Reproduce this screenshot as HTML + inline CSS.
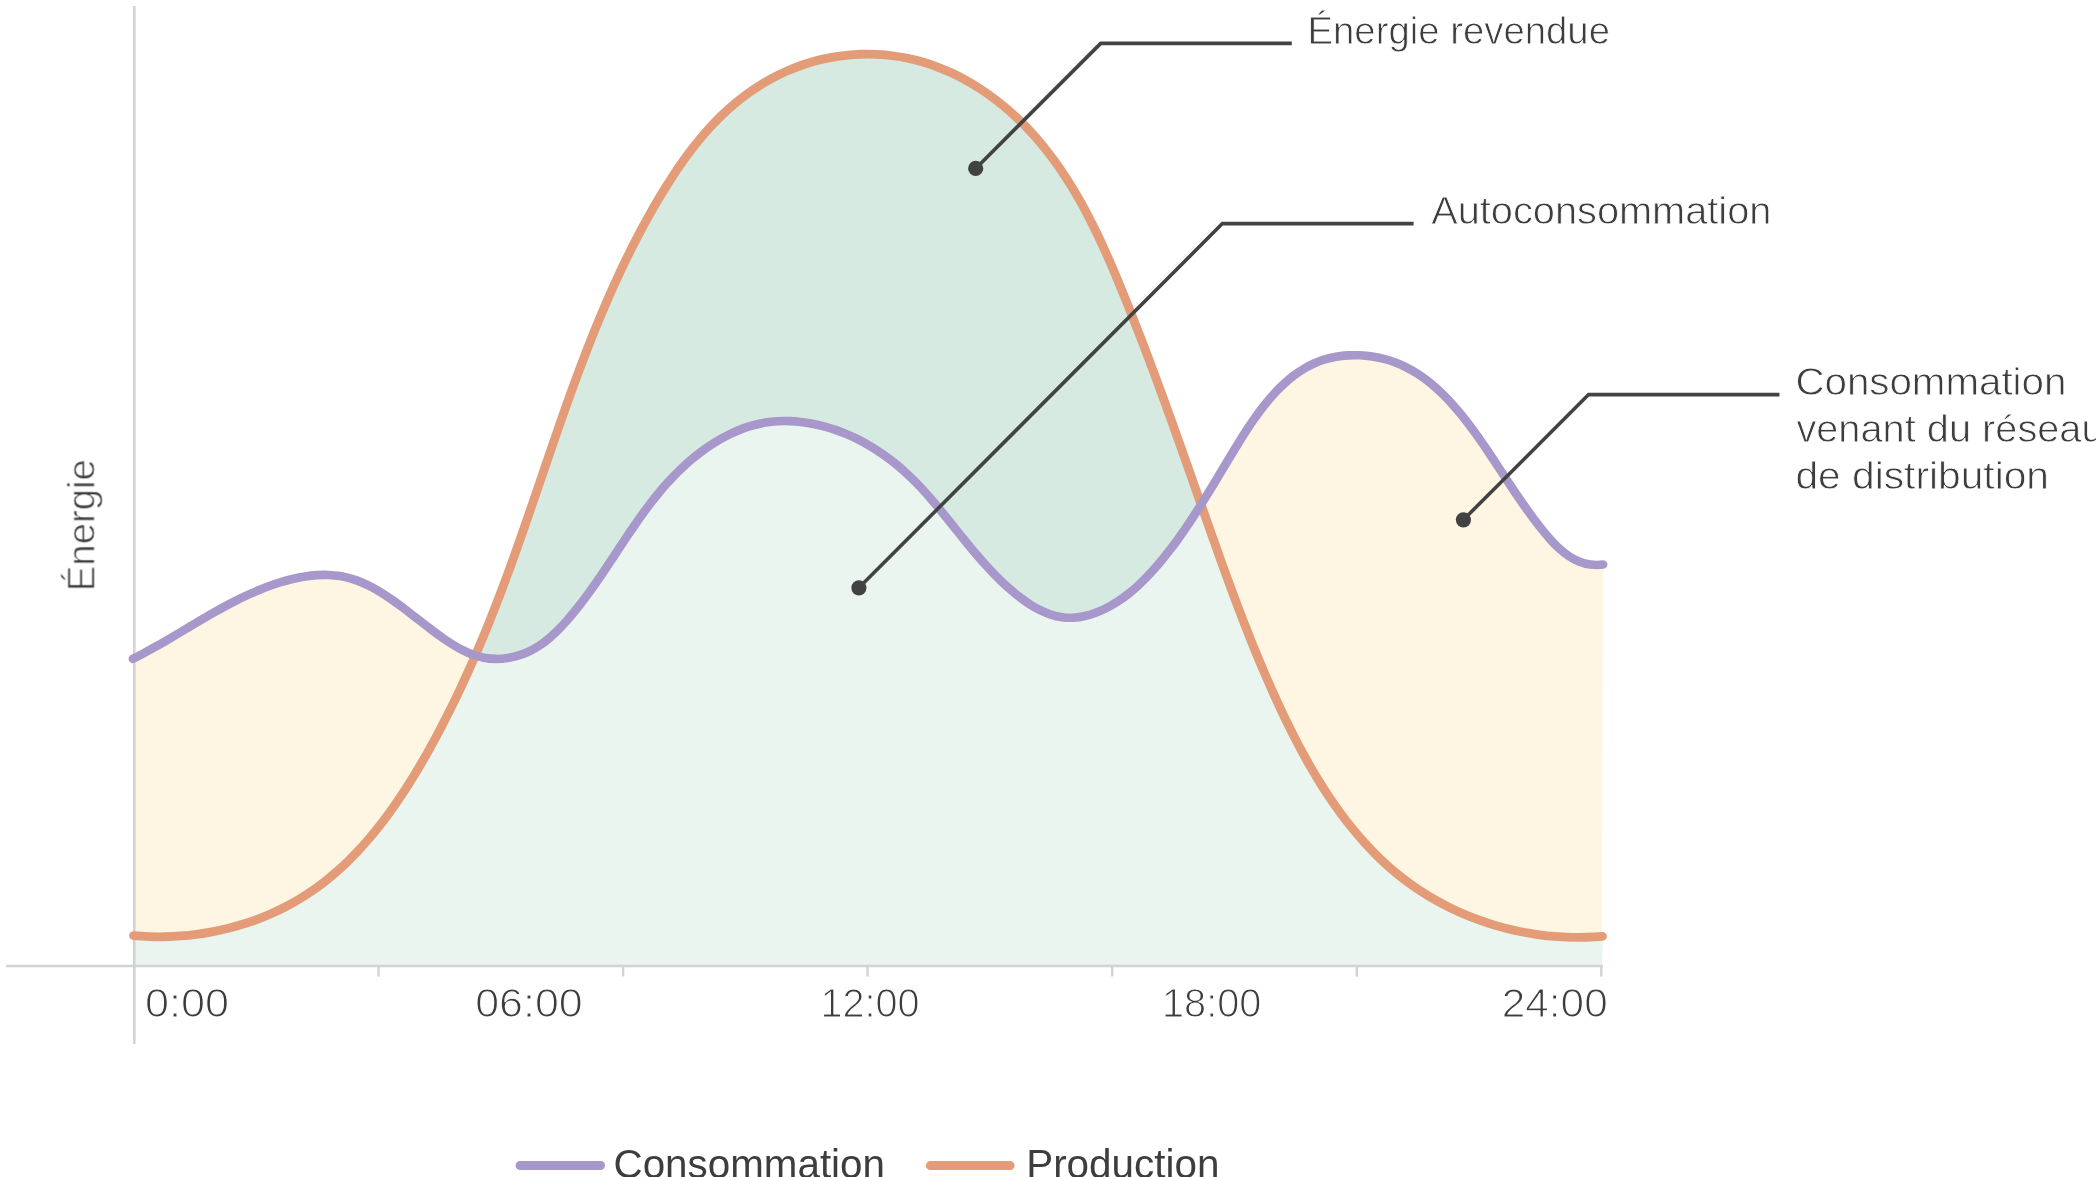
<!DOCTYPE html>
<html><head><meta charset="utf-8"><title>Autoconsommation</title>
<style>html,body{margin:0;padding:0;background:#fff;overflow:hidden}svg{display:block}</style>
</head><body>
<svg width="2096" height="1177" viewBox="0 0 2096 1177">
<defs><clipPath id="co"><path d="M133.55,935.69C138.78,936.16 144.02,936.49 149.28,936.66C154.54,936.84 159.80,936.87 165.06,936.76C170.32,936.65 175.57,936.39 180.82,935.98C186.06,935.58 191.29,935.03 196.50,934.34C201.71,933.65 206.89,932.81 212.05,931.84C217.20,930.86 222.32,929.74 227.40,928.49C232.47,927.23 237.51,925.83 242.49,924.29C247.47,922.76 252.40,921.08 257.26,919.27C262.13,917.45 266.93,915.50 271.66,913.41C276.39,911.33 281.04,909.10 285.61,906.74C290.19,904.39 294.68,901.89 299.07,899.26C303.47,896.64 307.77,893.87 311.98,890.98C316.19,888.09 320.30,885.07 324.32,881.94C328.34,878.80 332.27,875.55 336.11,872.18C339.96,868.82 343.72,865.35 347.39,861.78C351.07,858.21 354.66,854.54 358.18,850.78C361.70,847.02 365.14,843.17 368.50,839.24C371.87,835.32 375.16,831.31 378.38,827.23C381.61,823.15 384.76,819.00 387.85,814.79C390.94,810.58 393.97,806.31 396.93,801.99C399.90,797.66 402.80,793.29 405.65,788.88C408.50,784.46 411.29,780.00 414.03,775.51C416.77,771.02 419.45,766.50 422.09,761.96C424.73,757.41 427.33,752.84 429.87,748.26C432.42,743.68 434.93,739.08 437.39,734.47C439.85,729.86 442.27,725.24 444.66,720.60C447.04,715.96 449.38,711.30 451.68,706.63C453.99,701.97 456.25,697.29 458.48,692.59C460.71,687.90 462.91,683.19 465.07,678.47C467.23,673.76 469.36,669.02 471.46,664.28C473.56,659.54 475.62,654.78 477.66,650.02C479.70,645.25 481.71,640.47 483.69,635.68C485.67,630.90 487.62,626.10 489.55,621.29C491.48,616.48 493.38,611.66 495.26,606.83C497.14,602.00 499.00,597.16 500.84,592.31C502.68,587.47 504.49,582.61 506.29,577.75C508.09,572.88 509.87,568.01 511.64,563.13C513.40,558.25 515.15,553.37 516.89,548.48C518.63,543.59 520.35,538.69 522.07,533.79C523.79,528.89 525.49,523.99 527.19,519.08C528.89,514.17 530.58,509.26 532.26,504.35C533.95,499.43 535.63,494.52 537.31,489.60C538.99,484.69 540.67,479.77 542.34,474.85C544.02,469.93 545.70,465.02 547.38,460.10C549.06,455.18 550.75,450.27 552.44,445.36C554.13,440.44 555.82,435.53 557.53,430.63C559.23,425.72 560.95,420.82 562.67,415.92C564.40,411.02 566.13,406.13 567.88,401.24C569.63,396.35 571.39,391.47 573.17,386.59C574.95,381.71 576.74,376.84 578.56,371.98C580.37,367.12 582.21,362.27 584.06,357.42C585.91,352.58 587.79,347.74 589.69,342.92C591.59,338.09 593.52,333.28 595.47,328.47C597.42,323.67 599.40,318.87 601.41,314.09C603.41,309.31 605.45,304.54 607.52,299.79C609.59,295.03 611.69,290.29 613.83,285.57C615.96,280.84 618.13,276.13 620.34,271.43C622.55,266.73 624.80,262.05 627.08,257.39C629.37,252.72 631.69,248.07 634.06,243.44C636.43,238.81 638.84,234.20 641.30,229.61C643.75,225.02 646.25,220.44 648.80,215.89C651.35,211.33 653.95,206.80 656.60,202.29C659.24,197.77 661.94,193.28 664.69,188.82C667.45,184.36 670.26,179.93 673.14,175.55C676.01,171.17 678.96,166.83 681.97,162.56C684.98,158.28 688.07,154.07 691.24,149.92C694.41,145.78 697.65,141.71 700.99,137.73C704.33,133.75 707.75,129.86 711.27,126.07C714.79,122.27 718.40,118.58 722.12,115.00C725.84,111.43 729.66,107.96 733.60,104.63C737.53,101.29 741.57,98.09 745.73,95.02C749.89,91.96 754.17,89.04 758.54,86.26C762.91,83.49 767.38,80.87 771.95,78.42C776.51,75.97 781.16,73.68 785.89,71.56C790.63,69.45 795.44,67.51 800.31,65.76C805.19,64.00 810.14,62.44 815.14,61.07C820.15,59.71 825.21,58.54 830.31,57.58C835.42,56.62 840.56,55.86 845.73,55.30C850.90,54.75 856.10,54.39 861.30,54.24C866.50,54.09 871.71,54.14 876.90,54.39C882.10,54.64 887.28,55.09 892.44,55.75C897.59,56.40 902.72,57.25 907.79,58.31C912.87,59.37 917.90,60.62 922.87,62.08C927.84,63.54 932.74,65.19 937.58,67.03C942.42,68.86 947.18,70.89 951.88,73.08C956.57,75.27 961.19,77.63 965.73,80.15C970.27,82.67 974.73,85.34 979.10,88.16C983.48,90.97 987.76,93.93 991.96,97.02C996.15,100.11 1000.25,103.32 1004.26,106.66C1008.26,109.99 1012.16,113.43 1015.96,116.98C1019.77,120.53 1023.46,124.18 1027.05,127.92C1030.63,131.66 1034.11,135.48 1037.48,139.39C1040.86,143.29 1044.13,147.28 1047.30,151.34C1050.48,155.41 1053.56,159.54 1056.55,163.75C1059.54,167.95 1062.45,172.22 1065.27,176.55C1068.09,180.89 1070.84,185.28 1073.51,189.72C1076.17,194.17 1078.77,198.67 1081.30,203.21C1083.83,207.76 1086.29,212.35 1088.69,216.99C1091.09,221.62 1093.44,226.29 1095.73,231.00C1098.02,235.70 1100.26,240.44 1102.45,245.20C1104.64,249.97 1106.79,254.76 1108.90,259.57C1111.01,264.37 1113.09,269.20 1115.13,274.04C1117.17,278.88 1119.18,283.74 1121.17,288.59C1123.16,293.45 1125.12,298.31 1127.07,303.17C1129.02,308.04 1130.95,312.90 1132.86,317.76C1134.78,322.62 1136.67,327.48 1138.56,332.34C1140.44,337.20 1142.31,342.06 1144.16,346.92C1146.02,351.78 1147.86,356.64 1149.69,361.50C1151.52,366.37 1153.33,371.23 1155.14,376.09C1156.94,380.95 1158.74,385.81 1160.52,390.68C1162.31,395.54 1164.08,400.40 1165.85,405.27C1167.62,410.13 1169.37,415.00 1171.12,419.86C1172.87,424.73 1174.62,429.59 1176.36,434.46C1178.09,439.33 1179.83,444.20 1181.55,449.07C1183.28,453.94 1185.00,458.81 1186.72,463.68C1188.44,468.56 1190.16,473.43 1191.87,478.30C1193.58,483.18 1195.30,488.06 1197.01,492.94C1198.72,497.81 1200.43,502.69 1202.14,507.58C1203.85,512.46 1205.56,517.34 1207.28,522.23C1208.99,527.11 1210.71,531.99 1212.44,536.88C1214.17,541.76 1215.90,546.64 1217.64,551.52C1219.38,556.40 1221.13,561.28 1222.89,566.16C1224.65,571.04 1226.42,575.91 1228.20,580.79C1229.99,585.66 1231.78,590.53 1233.60,595.39C1235.41,600.26 1237.24,605.12 1239.09,609.97C1240.94,614.83 1242.81,619.68 1244.70,624.52C1246.58,629.37 1248.49,634.21 1250.42,639.04C1252.36,643.87 1254.31,648.69 1256.29,653.51C1258.28,658.33 1260.28,663.14 1262.32,667.94C1264.36,672.74 1266.42,677.53 1268.52,682.31C1270.61,687.10 1272.74,691.87 1274.90,696.63C1277.06,701.39 1279.25,706.15 1281.48,710.88C1283.71,715.62 1285.98,720.35 1288.29,725.05C1290.60,729.75 1292.95,734.43 1295.35,739.09C1297.75,743.74 1300.20,748.37 1302.70,752.97C1305.20,757.57 1307.75,762.13 1310.37,766.66C1312.98,771.19 1315.65,775.68 1318.38,780.13C1321.11,784.57 1323.90,788.98 1326.77,793.33C1329.63,797.69 1332.56,801.99 1335.56,806.24C1338.56,810.49 1341.64,814.69 1344.79,818.82C1347.94,822.96 1351.17,827.03 1354.48,831.02C1357.79,835.02 1361.18,838.94 1364.65,842.78C1368.12,846.62 1371.68,850.37 1375.32,854.03C1378.97,857.69 1382.69,861.25 1386.51,864.71C1390.33,868.16 1394.24,871.51 1398.24,874.74C1402.24,877.98 1406.34,881.09 1410.52,884.09C1414.69,887.09 1418.96,889.97 1423.30,892.73C1427.64,895.49 1432.06,898.13 1436.56,900.65C1441.05,903.17 1445.62,905.56 1450.25,907.83C1454.88,910.10 1459.57,912.25 1464.33,914.27C1469.09,916.29 1473.90,918.18 1478.77,919.95C1483.64,921.71 1488.56,923.34 1493.53,924.85C1498.50,926.35 1503.51,927.72 1508.56,928.96C1513.62,930.20 1518.71,931.30 1523.84,932.27C1528.97,933.24 1534.13,934.08 1539.32,934.77C1544.51,935.47 1549.72,936.03 1554.96,936.45C1560.19,936.86 1565.45,937.14 1570.72,937.28C1575.99,937.41 1581.27,937.41 1586.57,937.25C1591.86,937.10 1597.16,936.81 1602.46,936.36L1602,966L134,966Z"/></clipPath></defs>
<path d="M132.85,658.87C136.55,657.02 140.20,655.13 143.79,653.21C147.39,651.29 150.93,649.34 154.44,647.37C157.94,645.41 161.41,643.42 164.85,641.42C168.29,639.42 171.70,637.41 175.09,635.40C178.48,633.38 181.85,631.36 185.22,629.35C188.58,627.33 191.94,625.32 195.31,623.32C198.67,621.32 202.04,619.33 205.42,617.37C208.80,615.40 212.19,613.45 215.61,611.53C219.03,609.60 222.48,607.71 225.96,605.85C229.44,603.99 232.95,602.17 236.52,600.39C240.08,598.61 243.69,596.87 247.35,595.18C251.02,593.49 254.74,591.86 258.52,590.29C262.29,588.72 266.11,587.23 269.97,585.83C273.82,584.43 277.71,583.13 281.62,581.94C285.53,580.76 289.46,579.69 293.39,578.77C297.33,577.85 301.27,577.07 305.20,576.45C309.13,575.84 313.06,575.39 316.96,575.14C320.86,574.88 324.74,574.81 328.59,574.96C332.43,575.11 336.24,575.47 340.00,576.07C343.76,576.67 347.47,577.51 351.12,578.59C354.77,579.68 358.37,580.99 361.92,582.50C365.48,584.01 368.99,585.72 372.46,587.58C375.93,589.45 379.36,591.47 382.76,593.62C386.17,595.77 389.54,598.04 392.89,600.39C396.24,602.75 399.57,605.19 402.88,607.68C406.19,610.18 409.49,612.72 412.78,615.28C416.07,617.83 419.36,620.40 422.64,622.95C425.93,625.50 429.21,628.02 432.51,630.49C435.80,632.96 439.10,635.36 442.42,637.67C445.73,639.99 449.06,642.20 452.42,644.29C455.78,646.37 459.16,648.32 462.59,650.07C466.03,651.82 469.51,653.38 473.08,654.68C476.64,655.98 480.28,657.02 484.02,657.75C487.76,658.48 491.60,658.88 495.56,658.92C499.52,658.97 503.56,658.66 507.60,658.03C511.63,657.40 515.64,656.45 519.54,655.21C523.44,653.97 527.21,652.44 530.79,650.65C534.36,648.86 537.77,646.82 541.03,644.58C544.29,642.33 547.40,639.88 550.40,637.28C553.39,634.68 556.27,631.93 559.06,629.07C561.85,626.22 564.55,623.26 567.18,620.25C569.82,617.24 572.39,614.18 574.91,611.09C577.43,607.99 579.90,604.85 582.32,601.67C584.74,598.50 587.12,595.29 589.46,592.06C591.81,588.82 594.12,585.56 596.40,582.28C598.68,579.00 600.93,575.70 603.16,572.39C605.40,569.08 607.62,565.76 609.82,562.43C612.03,559.10 614.23,555.77 616.42,552.43C618.62,549.10 620.81,545.77 623.01,542.45C625.22,539.13 627.42,535.82 629.65,532.53C631.87,529.23 634.12,525.96 636.38,522.70C638.65,519.45 640.94,516.22 643.26,513.02C645.59,509.82 647.95,506.65 650.35,503.51C652.75,500.38 655.20,497.28 657.69,494.23C660.19,491.17 662.74,488.16 665.36,485.20C667.97,482.24 670.64,479.33 673.39,476.47C676.13,473.61 678.95,470.81 681.85,468.08C684.74,465.34 687.72,462.67 690.79,460.06C693.85,457.45 697.01,454.92 700.26,452.46C703.51,450.00 706.85,447.63 710.26,445.37C713.68,443.10 717.17,440.95 720.73,438.92C724.28,436.90 727.90,435.01 731.57,433.29C735.24,431.56 738.97,429.99 742.73,428.60C746.48,427.21 750.28,426.01 754.10,425.01C757.93,424.02 761.78,423.22 765.65,422.60C769.51,421.99 773.40,421.56 777.29,421.32C781.19,421.07 785.09,421.00 789.00,421.11C792.91,421.21 796.81,421.48 800.71,421.91C804.61,422.34 808.50,422.93 812.38,423.67C816.25,424.41 820.11,425.31 823.94,426.34C827.77,427.37 831.58,428.55 835.36,429.85C839.13,431.16 842.87,432.60 846.57,434.16C850.27,435.72 853.92,437.41 857.53,439.21C861.13,441.01 864.69,442.92 868.18,444.93C871.68,446.95 875.11,449.07 878.48,451.29C881.84,453.50 885.14,455.81 888.37,458.21C891.59,460.60 894.73,463.08 897.79,465.64C900.85,468.20 903.83,470.83 906.74,473.53C909.65,476.23 912.48,479.00 915.26,481.82C918.04,484.64 920.76,487.52 923.43,490.44C926.11,493.36 928.73,496.33 931.33,499.33C933.92,502.33 936.48,505.37 939.01,508.43C941.54,511.49 944.05,514.57 946.55,517.67C949.05,520.77 951.54,523.89 954.03,527.01C956.52,530.12 959.01,533.25 961.51,536.36C964.01,539.48 966.52,542.59 969.06,545.68C971.60,548.77 974.16,551.85 976.76,554.90C979.36,557.95 981.99,560.97 984.68,563.95C987.36,566.94 990.09,569.88 992.88,572.78C995.67,575.68 998.52,578.53 1001.44,581.33C1004.36,584.12 1007.35,586.86 1010.42,589.52C1013.50,592.19 1016.66,594.79 1019.89,597.27C1023.13,599.75 1026.45,602.10 1029.83,604.27C1033.22,606.44 1036.67,608.43 1040.19,610.17C1043.71,611.91 1047.30,613.41 1050.94,614.60C1054.58,615.80 1058.28,616.69 1062.02,617.22C1065.77,617.75 1069.57,617.89 1073.41,617.67C1077.24,617.45 1081.09,616.88 1084.94,615.99C1088.78,615.11 1092.62,613.92 1096.40,612.48C1100.19,611.03 1103.93,609.34 1107.58,607.44C1111.23,605.54 1114.79,603.44 1118.24,601.18C1121.68,598.93 1125.01,596.53 1128.22,594.00C1131.44,591.47 1134.55,588.82 1137.56,586.07C1140.57,583.33 1143.48,580.48 1146.31,577.57C1149.13,574.66 1151.87,571.68 1154.54,568.67C1157.20,565.65 1159.80,562.59 1162.32,559.52C1164.85,556.44 1167.31,553.35 1169.72,550.24C1172.13,547.12 1174.48,543.99 1176.78,540.84C1179.09,537.69 1181.34,534.51 1183.56,531.32C1185.78,528.13 1187.96,524.92 1190.10,521.69C1192.25,518.46 1194.37,515.21 1196.46,511.94C1198.56,508.67 1200.63,505.38 1202.69,502.07C1204.75,498.76 1206.79,495.43 1208.83,492.09C1210.87,488.74 1212.90,485.37 1214.94,481.99C1216.97,478.60 1219.01,475.20 1221.06,471.78C1223.11,468.35 1225.18,464.91 1227.26,461.45C1229.34,457.99 1231.44,454.51 1233.57,451.01C1235.70,447.51 1237.86,444.00 1240.05,440.48C1242.24,436.97 1244.47,433.46 1246.75,429.98C1249.02,426.50 1251.34,423.05 1253.71,419.64C1256.08,416.24 1258.50,412.89 1260.98,409.61C1263.47,406.33 1266.01,403.12 1268.62,400.01C1271.23,396.91 1273.91,393.89 1276.66,391.00C1279.42,388.11 1282.25,385.33 1285.17,382.70C1288.08,380.07 1291.08,377.59 1294.17,375.27C1297.26,372.94 1300.45,370.79 1303.73,368.82C1307.01,366.85 1310.40,365.08 1313.89,363.51C1317.38,361.94 1320.99,360.59 1324.70,359.47C1328.41,358.35 1332.22,357.45 1336.11,356.77C1339.99,356.10 1343.94,355.64 1347.93,355.40C1351.92,355.16 1355.94,355.14 1359.97,355.32C1363.99,355.51 1368.02,355.90 1372.01,356.50C1376.01,357.10 1379.98,357.91 1383.88,358.91C1387.78,359.92 1391.62,361.12 1395.36,362.53C1399.10,363.93 1402.73,365.52 1406.27,367.30C1409.80,369.08 1413.24,371.03 1416.58,373.14C1419.92,375.25 1423.17,377.51 1426.34,379.91C1429.50,382.31 1432.57,384.85 1435.57,387.50C1438.56,390.15 1441.48,392.91 1444.32,395.76C1447.16,398.61 1449.92,401.56 1452.62,404.58C1455.32,407.59 1457.95,410.68 1460.52,413.82C1463.09,416.95 1465.60,420.14 1468.05,423.36C1470.50,426.57 1472.90,429.81 1475.25,433.06C1477.60,436.32 1479.91,439.58 1482.18,442.86C1484.44,446.13 1486.68,449.42 1488.89,452.71C1491.10,456.00 1493.28,459.30 1495.45,462.60C1497.63,465.90 1499.79,469.20 1501.95,472.50C1504.11,475.80 1506.26,479.10 1508.43,482.39C1510.60,485.68 1512.77,488.97 1514.97,492.25C1517.17,495.52 1519.39,498.79 1521.64,502.04C1523.89,505.29 1526.18,508.53 1528.51,511.76C1530.83,514.98 1533.21,518.18 1535.63,521.37C1538.06,524.55 1540.54,527.71 1543.09,530.85C1545.64,533.98 1548.25,537.10 1550.96,540.11C1553.67,543.12 1556.48,546.01 1559.42,548.69C1562.35,551.38 1565.43,553.85 1568.66,556.01C1571.90,558.18 1575.30,560.04 1578.90,561.49C1582.50,562.94 1586.30,563.99 1590.34,564.53C1594.37,565.07 1598.64,565.11 1603.17,564.55L1602,966L134,966Z" fill="#FEF6E3"/>
<path d="M133.55,935.69C138.78,936.16 144.02,936.49 149.28,936.66C154.54,936.84 159.80,936.87 165.06,936.76C170.32,936.65 175.57,936.39 180.82,935.98C186.06,935.58 191.29,935.03 196.50,934.34C201.71,933.65 206.89,932.81 212.05,931.84C217.20,930.86 222.32,929.74 227.40,928.49C232.47,927.23 237.51,925.83 242.49,924.29C247.47,922.76 252.40,921.08 257.26,919.27C262.13,917.45 266.93,915.50 271.66,913.41C276.39,911.33 281.04,909.10 285.61,906.74C290.19,904.39 294.68,901.89 299.07,899.26C303.47,896.64 307.77,893.87 311.98,890.98C316.19,888.09 320.30,885.07 324.32,881.94C328.34,878.80 332.27,875.55 336.11,872.18C339.96,868.82 343.72,865.35 347.39,861.78C351.07,858.21 354.66,854.54 358.18,850.78C361.70,847.02 365.14,843.17 368.50,839.24C371.87,835.32 375.16,831.31 378.38,827.23C381.61,823.15 384.76,819.00 387.85,814.79C390.94,810.58 393.97,806.31 396.93,801.99C399.90,797.66 402.80,793.29 405.65,788.88C408.50,784.46 411.29,780.00 414.03,775.51C416.77,771.02 419.45,766.50 422.09,761.96C424.73,757.41 427.33,752.84 429.87,748.26C432.42,743.68 434.93,739.08 437.39,734.47C439.85,729.86 442.27,725.24 444.66,720.60C447.04,715.96 449.38,711.30 451.68,706.63C453.99,701.97 456.25,697.29 458.48,692.59C460.71,687.90 462.91,683.19 465.07,678.47C467.23,673.76 469.36,669.02 471.46,664.28C473.56,659.54 475.62,654.78 477.66,650.02C479.70,645.25 481.71,640.47 483.69,635.68C485.67,630.90 487.62,626.10 489.55,621.29C491.48,616.48 493.38,611.66 495.26,606.83C497.14,602.00 499.00,597.16 500.84,592.31C502.68,587.47 504.49,582.61 506.29,577.75C508.09,572.88 509.87,568.01 511.64,563.13C513.40,558.25 515.15,553.37 516.89,548.48C518.63,543.59 520.35,538.69 522.07,533.79C523.79,528.89 525.49,523.99 527.19,519.08C528.89,514.17 530.58,509.26 532.26,504.35C533.95,499.43 535.63,494.52 537.31,489.60C538.99,484.69 540.67,479.77 542.34,474.85C544.02,469.93 545.70,465.02 547.38,460.10C549.06,455.18 550.75,450.27 552.44,445.36C554.13,440.44 555.82,435.53 557.53,430.63C559.23,425.72 560.95,420.82 562.67,415.92C564.40,411.02 566.13,406.13 567.88,401.24C569.63,396.35 571.39,391.47 573.17,386.59C574.95,381.71 576.74,376.84 578.56,371.98C580.37,367.12 582.21,362.27 584.06,357.42C585.91,352.58 587.79,347.74 589.69,342.92C591.59,338.09 593.52,333.28 595.47,328.47C597.42,323.67 599.40,318.87 601.41,314.09C603.41,309.31 605.45,304.54 607.52,299.79C609.59,295.03 611.69,290.29 613.83,285.57C615.96,280.84 618.13,276.13 620.34,271.43C622.55,266.73 624.80,262.05 627.08,257.39C629.37,252.72 631.69,248.07 634.06,243.44C636.43,238.81 638.84,234.20 641.30,229.61C643.75,225.02 646.25,220.44 648.80,215.89C651.35,211.33 653.95,206.80 656.60,202.29C659.24,197.77 661.94,193.28 664.69,188.82C667.45,184.36 670.26,179.93 673.14,175.55C676.01,171.17 678.96,166.83 681.97,162.56C684.98,158.28 688.07,154.07 691.24,149.92C694.41,145.78 697.65,141.71 700.99,137.73C704.33,133.75 707.75,129.86 711.27,126.07C714.79,122.27 718.40,118.58 722.12,115.00C725.84,111.43 729.66,107.96 733.60,104.63C737.53,101.29 741.57,98.09 745.73,95.02C749.89,91.96 754.17,89.04 758.54,86.26C762.91,83.49 767.38,80.87 771.95,78.42C776.51,75.97 781.16,73.68 785.89,71.56C790.63,69.45 795.44,67.51 800.31,65.76C805.19,64.00 810.14,62.44 815.14,61.07C820.15,59.71 825.21,58.54 830.31,57.58C835.42,56.62 840.56,55.86 845.73,55.30C850.90,54.75 856.10,54.39 861.30,54.24C866.50,54.09 871.71,54.14 876.90,54.39C882.10,54.64 887.28,55.09 892.44,55.75C897.59,56.40 902.72,57.25 907.79,58.31C912.87,59.37 917.90,60.62 922.87,62.08C927.84,63.54 932.74,65.19 937.58,67.03C942.42,68.86 947.18,70.89 951.88,73.08C956.57,75.27 961.19,77.63 965.73,80.15C970.27,82.67 974.73,85.34 979.10,88.16C983.48,90.97 987.76,93.93 991.96,97.02C996.15,100.11 1000.25,103.32 1004.26,106.66C1008.26,109.99 1012.16,113.43 1015.96,116.98C1019.77,120.53 1023.46,124.18 1027.05,127.92C1030.63,131.66 1034.11,135.48 1037.48,139.39C1040.86,143.29 1044.13,147.28 1047.30,151.34C1050.48,155.41 1053.56,159.54 1056.55,163.75C1059.54,167.95 1062.45,172.22 1065.27,176.55C1068.09,180.89 1070.84,185.28 1073.51,189.72C1076.17,194.17 1078.77,198.67 1081.30,203.21C1083.83,207.76 1086.29,212.35 1088.69,216.99C1091.09,221.62 1093.44,226.29 1095.73,231.00C1098.02,235.70 1100.26,240.44 1102.45,245.20C1104.64,249.97 1106.79,254.76 1108.90,259.57C1111.01,264.37 1113.09,269.20 1115.13,274.04C1117.17,278.88 1119.18,283.74 1121.17,288.59C1123.16,293.45 1125.12,298.31 1127.07,303.17C1129.02,308.04 1130.95,312.90 1132.86,317.76C1134.78,322.62 1136.67,327.48 1138.56,332.34C1140.44,337.20 1142.31,342.06 1144.16,346.92C1146.02,351.78 1147.86,356.64 1149.69,361.50C1151.52,366.37 1153.33,371.23 1155.14,376.09C1156.94,380.95 1158.74,385.81 1160.52,390.68C1162.31,395.54 1164.08,400.40 1165.85,405.27C1167.62,410.13 1169.37,415.00 1171.12,419.86C1172.87,424.73 1174.62,429.59 1176.36,434.46C1178.09,439.33 1179.83,444.20 1181.55,449.07C1183.28,453.94 1185.00,458.81 1186.72,463.68C1188.44,468.56 1190.16,473.43 1191.87,478.30C1193.58,483.18 1195.30,488.06 1197.01,492.94C1198.72,497.81 1200.43,502.69 1202.14,507.58C1203.85,512.46 1205.56,517.34 1207.28,522.23C1208.99,527.11 1210.71,531.99 1212.44,536.88C1214.17,541.76 1215.90,546.64 1217.64,551.52C1219.38,556.40 1221.13,561.28 1222.89,566.16C1224.65,571.04 1226.42,575.91 1228.20,580.79C1229.99,585.66 1231.78,590.53 1233.60,595.39C1235.41,600.26 1237.24,605.12 1239.09,609.97C1240.94,614.83 1242.81,619.68 1244.70,624.52C1246.58,629.37 1248.49,634.21 1250.42,639.04C1252.36,643.87 1254.31,648.69 1256.29,653.51C1258.28,658.33 1260.28,663.14 1262.32,667.94C1264.36,672.74 1266.42,677.53 1268.52,682.31C1270.61,687.10 1272.74,691.87 1274.90,696.63C1277.06,701.39 1279.25,706.15 1281.48,710.88C1283.71,715.62 1285.98,720.35 1288.29,725.05C1290.60,729.75 1292.95,734.43 1295.35,739.09C1297.75,743.74 1300.20,748.37 1302.70,752.97C1305.20,757.57 1307.75,762.13 1310.37,766.66C1312.98,771.19 1315.65,775.68 1318.38,780.13C1321.11,784.57 1323.90,788.98 1326.77,793.33C1329.63,797.69 1332.56,801.99 1335.56,806.24C1338.56,810.49 1341.64,814.69 1344.79,818.82C1347.94,822.96 1351.17,827.03 1354.48,831.02C1357.79,835.02 1361.18,838.94 1364.65,842.78C1368.12,846.62 1371.68,850.37 1375.32,854.03C1378.97,857.69 1382.69,861.25 1386.51,864.71C1390.33,868.16 1394.24,871.51 1398.24,874.74C1402.24,877.98 1406.34,881.09 1410.52,884.09C1414.69,887.09 1418.96,889.97 1423.30,892.73C1427.64,895.49 1432.06,898.13 1436.56,900.65C1441.05,903.17 1445.62,905.56 1450.25,907.83C1454.88,910.10 1459.57,912.25 1464.33,914.27C1469.09,916.29 1473.90,918.18 1478.77,919.95C1483.64,921.71 1488.56,923.34 1493.53,924.85C1498.50,926.35 1503.51,927.72 1508.56,928.96C1513.62,930.20 1518.71,931.30 1523.84,932.27C1528.97,933.24 1534.13,934.08 1539.32,934.77C1544.51,935.47 1549.72,936.03 1554.96,936.45C1560.19,936.86 1565.45,937.14 1570.72,937.28C1575.99,937.41 1581.27,937.41 1586.57,937.25C1591.86,937.10 1597.16,936.81 1602.46,936.36L1602,966L134,966Z" fill="#D6EAE2"/>
<path d="M132.85,658.87C136.55,657.02 140.20,655.13 143.79,653.21C147.39,651.29 150.93,649.34 154.44,647.37C157.94,645.41 161.41,643.42 164.85,641.42C168.29,639.42 171.70,637.41 175.09,635.40C178.48,633.38 181.85,631.36 185.22,629.35C188.58,627.33 191.94,625.32 195.31,623.32C198.67,621.32 202.04,619.33 205.42,617.37C208.80,615.40 212.19,613.45 215.61,611.53C219.03,609.60 222.48,607.71 225.96,605.85C229.44,603.99 232.95,602.17 236.52,600.39C240.08,598.61 243.69,596.87 247.35,595.18C251.02,593.49 254.74,591.86 258.52,590.29C262.29,588.72 266.11,587.23 269.97,585.83C273.82,584.43 277.71,583.13 281.62,581.94C285.53,580.76 289.46,579.69 293.39,578.77C297.33,577.85 301.27,577.07 305.20,576.45C309.13,575.84 313.06,575.39 316.96,575.14C320.86,574.88 324.74,574.81 328.59,574.96C332.43,575.11 336.24,575.47 340.00,576.07C343.76,576.67 347.47,577.51 351.12,578.59C354.77,579.68 358.37,580.99 361.92,582.50C365.48,584.01 368.99,585.72 372.46,587.58C375.93,589.45 379.36,591.47 382.76,593.62C386.17,595.77 389.54,598.04 392.89,600.39C396.24,602.75 399.57,605.19 402.88,607.68C406.19,610.18 409.49,612.72 412.78,615.28C416.07,617.83 419.36,620.40 422.64,622.95C425.93,625.50 429.21,628.02 432.51,630.49C435.80,632.96 439.10,635.36 442.42,637.67C445.73,639.99 449.06,642.20 452.42,644.29C455.78,646.37 459.16,648.32 462.59,650.07C466.03,651.82 469.51,653.38 473.08,654.68C476.64,655.98 480.28,657.02 484.02,657.75C487.76,658.48 491.60,658.88 495.56,658.92C499.52,658.97 503.56,658.66 507.60,658.03C511.63,657.40 515.64,656.45 519.54,655.21C523.44,653.97 527.21,652.44 530.79,650.65C534.36,648.86 537.77,646.82 541.03,644.58C544.29,642.33 547.40,639.88 550.40,637.28C553.39,634.68 556.27,631.93 559.06,629.07C561.85,626.22 564.55,623.26 567.18,620.25C569.82,617.24 572.39,614.18 574.91,611.09C577.43,607.99 579.90,604.85 582.32,601.67C584.74,598.50 587.12,595.29 589.46,592.06C591.81,588.82 594.12,585.56 596.40,582.28C598.68,579.00 600.93,575.70 603.16,572.39C605.40,569.08 607.62,565.76 609.82,562.43C612.03,559.10 614.23,555.77 616.42,552.43C618.62,549.10 620.81,545.77 623.01,542.45C625.22,539.13 627.42,535.82 629.65,532.53C631.87,529.23 634.12,525.96 636.38,522.70C638.65,519.45 640.94,516.22 643.26,513.02C645.59,509.82 647.95,506.65 650.35,503.51C652.75,500.38 655.20,497.28 657.69,494.23C660.19,491.17 662.74,488.16 665.36,485.20C667.97,482.24 670.64,479.33 673.39,476.47C676.13,473.61 678.95,470.81 681.85,468.08C684.74,465.34 687.72,462.67 690.79,460.06C693.85,457.45 697.01,454.92 700.26,452.46C703.51,450.00 706.85,447.63 710.26,445.37C713.68,443.10 717.17,440.95 720.73,438.92C724.28,436.90 727.90,435.01 731.57,433.29C735.24,431.56 738.97,429.99 742.73,428.60C746.48,427.21 750.28,426.01 754.10,425.01C757.93,424.02 761.78,423.22 765.65,422.60C769.51,421.99 773.40,421.56 777.29,421.32C781.19,421.07 785.09,421.00 789.00,421.11C792.91,421.21 796.81,421.48 800.71,421.91C804.61,422.34 808.50,422.93 812.38,423.67C816.25,424.41 820.11,425.31 823.94,426.34C827.77,427.37 831.58,428.55 835.36,429.85C839.13,431.16 842.87,432.60 846.57,434.16C850.27,435.72 853.92,437.41 857.53,439.21C861.13,441.01 864.69,442.92 868.18,444.93C871.68,446.95 875.11,449.07 878.48,451.29C881.84,453.50 885.14,455.81 888.37,458.21C891.59,460.60 894.73,463.08 897.79,465.64C900.85,468.20 903.83,470.83 906.74,473.53C909.65,476.23 912.48,479.00 915.26,481.82C918.04,484.64 920.76,487.52 923.43,490.44C926.11,493.36 928.73,496.33 931.33,499.33C933.92,502.33 936.48,505.37 939.01,508.43C941.54,511.49 944.05,514.57 946.55,517.67C949.05,520.77 951.54,523.89 954.03,527.01C956.52,530.12 959.01,533.25 961.51,536.36C964.01,539.48 966.52,542.59 969.06,545.68C971.60,548.77 974.16,551.85 976.76,554.90C979.36,557.95 981.99,560.97 984.68,563.95C987.36,566.94 990.09,569.88 992.88,572.78C995.67,575.68 998.52,578.53 1001.44,581.33C1004.36,584.12 1007.35,586.86 1010.42,589.52C1013.50,592.19 1016.66,594.79 1019.89,597.27C1023.13,599.75 1026.45,602.10 1029.83,604.27C1033.22,606.44 1036.67,608.43 1040.19,610.17C1043.71,611.91 1047.30,613.41 1050.94,614.60C1054.58,615.80 1058.28,616.69 1062.02,617.22C1065.77,617.75 1069.57,617.89 1073.41,617.67C1077.24,617.45 1081.09,616.88 1084.94,615.99C1088.78,615.11 1092.62,613.92 1096.40,612.48C1100.19,611.03 1103.93,609.34 1107.58,607.44C1111.23,605.54 1114.79,603.44 1118.24,601.18C1121.68,598.93 1125.01,596.53 1128.22,594.00C1131.44,591.47 1134.55,588.82 1137.56,586.07C1140.57,583.33 1143.48,580.48 1146.31,577.57C1149.13,574.66 1151.87,571.68 1154.54,568.67C1157.20,565.65 1159.80,562.59 1162.32,559.52C1164.85,556.44 1167.31,553.35 1169.72,550.24C1172.13,547.12 1174.48,543.99 1176.78,540.84C1179.09,537.69 1181.34,534.51 1183.56,531.32C1185.78,528.13 1187.96,524.92 1190.10,521.69C1192.25,518.46 1194.37,515.21 1196.46,511.94C1198.56,508.67 1200.63,505.38 1202.69,502.07C1204.75,498.76 1206.79,495.43 1208.83,492.09C1210.87,488.74 1212.90,485.37 1214.94,481.99C1216.97,478.60 1219.01,475.20 1221.06,471.78C1223.11,468.35 1225.18,464.91 1227.26,461.45C1229.34,457.99 1231.44,454.51 1233.57,451.01C1235.70,447.51 1237.86,444.00 1240.05,440.48C1242.24,436.97 1244.47,433.46 1246.75,429.98C1249.02,426.50 1251.34,423.05 1253.71,419.64C1256.08,416.24 1258.50,412.89 1260.98,409.61C1263.47,406.33 1266.01,403.12 1268.62,400.01C1271.23,396.91 1273.91,393.89 1276.66,391.00C1279.42,388.11 1282.25,385.33 1285.17,382.70C1288.08,380.07 1291.08,377.59 1294.17,375.27C1297.26,372.94 1300.45,370.79 1303.73,368.82C1307.01,366.85 1310.40,365.08 1313.89,363.51C1317.38,361.94 1320.99,360.59 1324.70,359.47C1328.41,358.35 1332.22,357.45 1336.11,356.77C1339.99,356.10 1343.94,355.64 1347.93,355.40C1351.92,355.16 1355.94,355.14 1359.97,355.32C1363.99,355.51 1368.02,355.90 1372.01,356.50C1376.01,357.10 1379.98,357.91 1383.88,358.91C1387.78,359.92 1391.62,361.12 1395.36,362.53C1399.10,363.93 1402.73,365.52 1406.27,367.30C1409.80,369.08 1413.24,371.03 1416.58,373.14C1419.92,375.25 1423.17,377.51 1426.34,379.91C1429.50,382.31 1432.57,384.85 1435.57,387.50C1438.56,390.15 1441.48,392.91 1444.32,395.76C1447.16,398.61 1449.92,401.56 1452.62,404.58C1455.32,407.59 1457.95,410.68 1460.52,413.82C1463.09,416.95 1465.60,420.14 1468.05,423.36C1470.50,426.57 1472.90,429.81 1475.25,433.06C1477.60,436.32 1479.91,439.58 1482.18,442.86C1484.44,446.13 1486.68,449.42 1488.89,452.71C1491.10,456.00 1493.28,459.30 1495.45,462.60C1497.63,465.90 1499.79,469.20 1501.95,472.50C1504.11,475.80 1506.26,479.10 1508.43,482.39C1510.60,485.68 1512.77,488.97 1514.97,492.25C1517.17,495.52 1519.39,498.79 1521.64,502.04C1523.89,505.29 1526.18,508.53 1528.51,511.76C1530.83,514.98 1533.21,518.18 1535.63,521.37C1538.06,524.55 1540.54,527.71 1543.09,530.85C1545.64,533.98 1548.25,537.10 1550.96,540.11C1553.67,543.12 1556.48,546.01 1559.42,548.69C1562.35,551.38 1565.43,553.85 1568.66,556.01C1571.90,558.18 1575.30,560.04 1578.90,561.49C1582.50,562.94 1586.30,563.99 1590.34,564.53C1594.37,565.07 1598.64,565.11 1603.17,564.55L1602,966L134,966Z" fill="#EAF5F0" clip-path="url(#co)"/>
<line x1="134.3" y1="6" x2="134.3" y2="1044" stroke="#D3D3D3" stroke-width="2.6"/>
<line x1="6" y1="966" x2="1603" y2="966" stroke="#D3D3D3" stroke-width="2.6"/>
<line x1="378.5" y1="966" x2="378.5" y2="976.5" stroke="#D3D3D3" stroke-width="2.4"/>
<line x1="623.1" y1="966" x2="623.1" y2="976.5" stroke="#D3D3D3" stroke-width="2.4"/>
<line x1="867.6" y1="966" x2="867.6" y2="976.5" stroke="#D3D3D3" stroke-width="2.4"/>
<line x1="1112.2" y1="966" x2="1112.2" y2="976.5" stroke="#D3D3D3" stroke-width="2.4"/>
<line x1="1356.8" y1="966" x2="1356.8" y2="976.5" stroke="#D3D3D3" stroke-width="2.4"/>
<line x1="1601.3" y1="966" x2="1601.3" y2="976.5" stroke="#D3D3D3" stroke-width="2.4"/>
<path d="M133.55,935.69C138.78,936.16 144.02,936.49 149.28,936.66C154.54,936.84 159.80,936.87 165.06,936.76C170.32,936.65 175.57,936.39 180.82,935.98C186.06,935.58 191.29,935.03 196.50,934.34C201.71,933.65 206.89,932.81 212.05,931.84C217.20,930.86 222.32,929.74 227.40,928.49C232.47,927.23 237.51,925.83 242.49,924.29C247.47,922.76 252.40,921.08 257.26,919.27C262.13,917.45 266.93,915.50 271.66,913.41C276.39,911.33 281.04,909.10 285.61,906.74C290.19,904.39 294.68,901.89 299.07,899.26C303.47,896.64 307.77,893.87 311.98,890.98C316.19,888.09 320.30,885.07 324.32,881.94C328.34,878.80 332.27,875.55 336.11,872.18C339.96,868.82 343.72,865.35 347.39,861.78C351.07,858.21 354.66,854.54 358.18,850.78C361.70,847.02 365.14,843.17 368.50,839.24C371.87,835.32 375.16,831.31 378.38,827.23C381.61,823.15 384.76,819.00 387.85,814.79C390.94,810.58 393.97,806.31 396.93,801.99C399.90,797.66 402.80,793.29 405.65,788.88C408.50,784.46 411.29,780.00 414.03,775.51C416.77,771.02 419.45,766.50 422.09,761.96C424.73,757.41 427.33,752.84 429.87,748.26C432.42,743.68 434.93,739.08 437.39,734.47C439.85,729.86 442.27,725.24 444.66,720.60C447.04,715.96 449.38,711.30 451.68,706.63C453.99,701.97 456.25,697.29 458.48,692.59C460.71,687.90 462.91,683.19 465.07,678.47C467.23,673.76 469.36,669.02 471.46,664.28C473.56,659.54 475.62,654.78 477.66,650.02C479.70,645.25 481.71,640.47 483.69,635.68C485.67,630.90 487.62,626.10 489.55,621.29C491.48,616.48 493.38,611.66 495.26,606.83C497.14,602.00 499.00,597.16 500.84,592.31C502.68,587.47 504.49,582.61 506.29,577.75C508.09,572.88 509.87,568.01 511.64,563.13C513.40,558.25 515.15,553.37 516.89,548.48C518.63,543.59 520.35,538.69 522.07,533.79C523.79,528.89 525.49,523.99 527.19,519.08C528.89,514.17 530.58,509.26 532.26,504.35C533.95,499.43 535.63,494.52 537.31,489.60C538.99,484.69 540.67,479.77 542.34,474.85C544.02,469.93 545.70,465.02 547.38,460.10C549.06,455.18 550.75,450.27 552.44,445.36C554.13,440.44 555.82,435.53 557.53,430.63C559.23,425.72 560.95,420.82 562.67,415.92C564.40,411.02 566.13,406.13 567.88,401.24C569.63,396.35 571.39,391.47 573.17,386.59C574.95,381.71 576.74,376.84 578.56,371.98C580.37,367.12 582.21,362.27 584.06,357.42C585.91,352.58 587.79,347.74 589.69,342.92C591.59,338.09 593.52,333.28 595.47,328.47C597.42,323.67 599.40,318.87 601.41,314.09C603.41,309.31 605.45,304.54 607.52,299.79C609.59,295.03 611.69,290.29 613.83,285.57C615.96,280.84 618.13,276.13 620.34,271.43C622.55,266.73 624.80,262.05 627.08,257.39C629.37,252.72 631.69,248.07 634.06,243.44C636.43,238.81 638.84,234.20 641.30,229.61C643.75,225.02 646.25,220.44 648.80,215.89C651.35,211.33 653.95,206.80 656.60,202.29C659.24,197.77 661.94,193.28 664.69,188.82C667.45,184.36 670.26,179.93 673.14,175.55C676.01,171.17 678.96,166.83 681.97,162.56C684.98,158.28 688.07,154.07 691.24,149.92C694.41,145.78 697.65,141.71 700.99,137.73C704.33,133.75 707.75,129.86 711.27,126.07C714.79,122.27 718.40,118.58 722.12,115.00C725.84,111.43 729.66,107.96 733.60,104.63C737.53,101.29 741.57,98.09 745.73,95.02C749.89,91.96 754.17,89.04 758.54,86.26C762.91,83.49 767.38,80.87 771.95,78.42C776.51,75.97 781.16,73.68 785.89,71.56C790.63,69.45 795.44,67.51 800.31,65.76C805.19,64.00 810.14,62.44 815.14,61.07C820.15,59.71 825.21,58.54 830.31,57.58C835.42,56.62 840.56,55.86 845.73,55.30C850.90,54.75 856.10,54.39 861.30,54.24C866.50,54.09 871.71,54.14 876.90,54.39C882.10,54.64 887.28,55.09 892.44,55.75C897.59,56.40 902.72,57.25 907.79,58.31C912.87,59.37 917.90,60.62 922.87,62.08C927.84,63.54 932.74,65.19 937.58,67.03C942.42,68.86 947.18,70.89 951.88,73.08C956.57,75.27 961.19,77.63 965.73,80.15C970.27,82.67 974.73,85.34 979.10,88.16C983.48,90.97 987.76,93.93 991.96,97.02C996.15,100.11 1000.25,103.32 1004.26,106.66C1008.26,109.99 1012.16,113.43 1015.96,116.98C1019.77,120.53 1023.46,124.18 1027.05,127.92C1030.63,131.66 1034.11,135.48 1037.48,139.39C1040.86,143.29 1044.13,147.28 1047.30,151.34C1050.48,155.41 1053.56,159.54 1056.55,163.75C1059.54,167.95 1062.45,172.22 1065.27,176.55C1068.09,180.89 1070.84,185.28 1073.51,189.72C1076.17,194.17 1078.77,198.67 1081.30,203.21C1083.83,207.76 1086.29,212.35 1088.69,216.99C1091.09,221.62 1093.44,226.29 1095.73,231.00C1098.02,235.70 1100.26,240.44 1102.45,245.20C1104.64,249.97 1106.79,254.76 1108.90,259.57C1111.01,264.37 1113.09,269.20 1115.13,274.04C1117.17,278.88 1119.18,283.74 1121.17,288.59C1123.16,293.45 1125.12,298.31 1127.07,303.17C1129.02,308.04 1130.95,312.90 1132.86,317.76C1134.78,322.62 1136.67,327.48 1138.56,332.34C1140.44,337.20 1142.31,342.06 1144.16,346.92C1146.02,351.78 1147.86,356.64 1149.69,361.50C1151.52,366.37 1153.33,371.23 1155.14,376.09C1156.94,380.95 1158.74,385.81 1160.52,390.68C1162.31,395.54 1164.08,400.40 1165.85,405.27C1167.62,410.13 1169.37,415.00 1171.12,419.86C1172.87,424.73 1174.62,429.59 1176.36,434.46C1178.09,439.33 1179.83,444.20 1181.55,449.07C1183.28,453.94 1185.00,458.81 1186.72,463.68C1188.44,468.56 1190.16,473.43 1191.87,478.30C1193.58,483.18 1195.30,488.06 1197.01,492.94C1198.72,497.81 1200.43,502.69 1202.14,507.58C1203.85,512.46 1205.56,517.34 1207.28,522.23C1208.99,527.11 1210.71,531.99 1212.44,536.88C1214.17,541.76 1215.90,546.64 1217.64,551.52C1219.38,556.40 1221.13,561.28 1222.89,566.16C1224.65,571.04 1226.42,575.91 1228.20,580.79C1229.99,585.66 1231.78,590.53 1233.60,595.39C1235.41,600.26 1237.24,605.12 1239.09,609.97C1240.94,614.83 1242.81,619.68 1244.70,624.52C1246.58,629.37 1248.49,634.21 1250.42,639.04C1252.36,643.87 1254.31,648.69 1256.29,653.51C1258.28,658.33 1260.28,663.14 1262.32,667.94C1264.36,672.74 1266.42,677.53 1268.52,682.31C1270.61,687.10 1272.74,691.87 1274.90,696.63C1277.06,701.39 1279.25,706.15 1281.48,710.88C1283.71,715.62 1285.98,720.35 1288.29,725.05C1290.60,729.75 1292.95,734.43 1295.35,739.09C1297.75,743.74 1300.20,748.37 1302.70,752.97C1305.20,757.57 1307.75,762.13 1310.37,766.66C1312.98,771.19 1315.65,775.68 1318.38,780.13C1321.11,784.57 1323.90,788.98 1326.77,793.33C1329.63,797.69 1332.56,801.99 1335.56,806.24C1338.56,810.49 1341.64,814.69 1344.79,818.82C1347.94,822.96 1351.17,827.03 1354.48,831.02C1357.79,835.02 1361.18,838.94 1364.65,842.78C1368.12,846.62 1371.68,850.37 1375.32,854.03C1378.97,857.69 1382.69,861.25 1386.51,864.71C1390.33,868.16 1394.24,871.51 1398.24,874.74C1402.24,877.98 1406.34,881.09 1410.52,884.09C1414.69,887.09 1418.96,889.97 1423.30,892.73C1427.64,895.49 1432.06,898.13 1436.56,900.65C1441.05,903.17 1445.62,905.56 1450.25,907.83C1454.88,910.10 1459.57,912.25 1464.33,914.27C1469.09,916.29 1473.90,918.18 1478.77,919.95C1483.64,921.71 1488.56,923.34 1493.53,924.85C1498.50,926.35 1503.51,927.72 1508.56,928.96C1513.62,930.20 1518.71,931.30 1523.84,932.27C1528.97,933.24 1534.13,934.08 1539.32,934.77C1544.51,935.47 1549.72,936.03 1554.96,936.45C1560.19,936.86 1565.45,937.14 1570.72,937.28C1575.99,937.41 1581.27,937.41 1586.57,937.25C1591.86,937.10 1597.16,936.81 1602.46,936.36" fill="none" stroke="#E39C77" stroke-width="8.8" stroke-linecap="round"/>
<path d="M132.85,658.87C136.55,657.02 140.20,655.13 143.79,653.21C147.39,651.29 150.93,649.34 154.44,647.37C157.94,645.41 161.41,643.42 164.85,641.42C168.29,639.42 171.70,637.41 175.09,635.40C178.48,633.38 181.85,631.36 185.22,629.35C188.58,627.33 191.94,625.32 195.31,623.32C198.67,621.32 202.04,619.33 205.42,617.37C208.80,615.40 212.19,613.45 215.61,611.53C219.03,609.60 222.48,607.71 225.96,605.85C229.44,603.99 232.95,602.17 236.52,600.39C240.08,598.61 243.69,596.87 247.35,595.18C251.02,593.49 254.74,591.86 258.52,590.29C262.29,588.72 266.11,587.23 269.97,585.83C273.82,584.43 277.71,583.13 281.62,581.94C285.53,580.76 289.46,579.69 293.39,578.77C297.33,577.85 301.27,577.07 305.20,576.45C309.13,575.84 313.06,575.39 316.96,575.14C320.86,574.88 324.74,574.81 328.59,574.96C332.43,575.11 336.24,575.47 340.00,576.07C343.76,576.67 347.47,577.51 351.12,578.59C354.77,579.68 358.37,580.99 361.92,582.50C365.48,584.01 368.99,585.72 372.46,587.58C375.93,589.45 379.36,591.47 382.76,593.62C386.17,595.77 389.54,598.04 392.89,600.39C396.24,602.75 399.57,605.19 402.88,607.68C406.19,610.18 409.49,612.72 412.78,615.28C416.07,617.83 419.36,620.40 422.64,622.95C425.93,625.50 429.21,628.02 432.51,630.49C435.80,632.96 439.10,635.36 442.42,637.67C445.73,639.99 449.06,642.20 452.42,644.29C455.78,646.37 459.16,648.32 462.59,650.07C466.03,651.82 469.51,653.38 473.08,654.68C476.64,655.98 480.28,657.02 484.02,657.75C487.76,658.48 491.60,658.88 495.56,658.92C499.52,658.97 503.56,658.66 507.60,658.03C511.63,657.40 515.64,656.45 519.54,655.21C523.44,653.97 527.21,652.44 530.79,650.65C534.36,648.86 537.77,646.82 541.03,644.58C544.29,642.33 547.40,639.88 550.40,637.28C553.39,634.68 556.27,631.93 559.06,629.07C561.85,626.22 564.55,623.26 567.18,620.25C569.82,617.24 572.39,614.18 574.91,611.09C577.43,607.99 579.90,604.85 582.32,601.67C584.74,598.50 587.12,595.29 589.46,592.06C591.81,588.82 594.12,585.56 596.40,582.28C598.68,579.00 600.93,575.70 603.16,572.39C605.40,569.08 607.62,565.76 609.82,562.43C612.03,559.10 614.23,555.77 616.42,552.43C618.62,549.10 620.81,545.77 623.01,542.45C625.22,539.13 627.42,535.82 629.65,532.53C631.87,529.23 634.12,525.96 636.38,522.70C638.65,519.45 640.94,516.22 643.26,513.02C645.59,509.82 647.95,506.65 650.35,503.51C652.75,500.38 655.20,497.28 657.69,494.23C660.19,491.17 662.74,488.16 665.36,485.20C667.97,482.24 670.64,479.33 673.39,476.47C676.13,473.61 678.95,470.81 681.85,468.08C684.74,465.34 687.72,462.67 690.79,460.06C693.85,457.45 697.01,454.92 700.26,452.46C703.51,450.00 706.85,447.63 710.26,445.37C713.68,443.10 717.17,440.95 720.73,438.92C724.28,436.90 727.90,435.01 731.57,433.29C735.24,431.56 738.97,429.99 742.73,428.60C746.48,427.21 750.28,426.01 754.10,425.01C757.93,424.02 761.78,423.22 765.65,422.60C769.51,421.99 773.40,421.56 777.29,421.32C781.19,421.07 785.09,421.00 789.00,421.11C792.91,421.21 796.81,421.48 800.71,421.91C804.61,422.34 808.50,422.93 812.38,423.67C816.25,424.41 820.11,425.31 823.94,426.34C827.77,427.37 831.58,428.55 835.36,429.85C839.13,431.16 842.87,432.60 846.57,434.16C850.27,435.72 853.92,437.41 857.53,439.21C861.13,441.01 864.69,442.92 868.18,444.93C871.68,446.95 875.11,449.07 878.48,451.29C881.84,453.50 885.14,455.81 888.37,458.21C891.59,460.60 894.73,463.08 897.79,465.64C900.85,468.20 903.83,470.83 906.74,473.53C909.65,476.23 912.48,479.00 915.26,481.82C918.04,484.64 920.76,487.52 923.43,490.44C926.11,493.36 928.73,496.33 931.33,499.33C933.92,502.33 936.48,505.37 939.01,508.43C941.54,511.49 944.05,514.57 946.55,517.67C949.05,520.77 951.54,523.89 954.03,527.01C956.52,530.12 959.01,533.25 961.51,536.36C964.01,539.48 966.52,542.59 969.06,545.68C971.60,548.77 974.16,551.85 976.76,554.90C979.36,557.95 981.99,560.97 984.68,563.95C987.36,566.94 990.09,569.88 992.88,572.78C995.67,575.68 998.52,578.53 1001.44,581.33C1004.36,584.12 1007.35,586.86 1010.42,589.52C1013.50,592.19 1016.66,594.79 1019.89,597.27C1023.13,599.75 1026.45,602.10 1029.83,604.27C1033.22,606.44 1036.67,608.43 1040.19,610.17C1043.71,611.91 1047.30,613.41 1050.94,614.60C1054.58,615.80 1058.28,616.69 1062.02,617.22C1065.77,617.75 1069.57,617.89 1073.41,617.67C1077.24,617.45 1081.09,616.88 1084.94,615.99C1088.78,615.11 1092.62,613.92 1096.40,612.48C1100.19,611.03 1103.93,609.34 1107.58,607.44C1111.23,605.54 1114.79,603.44 1118.24,601.18C1121.68,598.93 1125.01,596.53 1128.22,594.00C1131.44,591.47 1134.55,588.82 1137.56,586.07C1140.57,583.33 1143.48,580.48 1146.31,577.57C1149.13,574.66 1151.87,571.68 1154.54,568.67C1157.20,565.65 1159.80,562.59 1162.32,559.52C1164.85,556.44 1167.31,553.35 1169.72,550.24C1172.13,547.12 1174.48,543.99 1176.78,540.84C1179.09,537.69 1181.34,534.51 1183.56,531.32C1185.78,528.13 1187.96,524.92 1190.10,521.69C1192.25,518.46 1194.37,515.21 1196.46,511.94C1198.56,508.67 1200.63,505.38 1202.69,502.07C1204.75,498.76 1206.79,495.43 1208.83,492.09C1210.87,488.74 1212.90,485.37 1214.94,481.99C1216.97,478.60 1219.01,475.20 1221.06,471.78C1223.11,468.35 1225.18,464.91 1227.26,461.45C1229.34,457.99 1231.44,454.51 1233.57,451.01C1235.70,447.51 1237.86,444.00 1240.05,440.48C1242.24,436.97 1244.47,433.46 1246.75,429.98C1249.02,426.50 1251.34,423.05 1253.71,419.64C1256.08,416.24 1258.50,412.89 1260.98,409.61C1263.47,406.33 1266.01,403.12 1268.62,400.01C1271.23,396.91 1273.91,393.89 1276.66,391.00C1279.42,388.11 1282.25,385.33 1285.17,382.70C1288.08,380.07 1291.08,377.59 1294.17,375.27C1297.26,372.94 1300.45,370.79 1303.73,368.82C1307.01,366.85 1310.40,365.08 1313.89,363.51C1317.38,361.94 1320.99,360.59 1324.70,359.47C1328.41,358.35 1332.22,357.45 1336.11,356.77C1339.99,356.10 1343.94,355.64 1347.93,355.40C1351.92,355.16 1355.94,355.14 1359.97,355.32C1363.99,355.51 1368.02,355.90 1372.01,356.50C1376.01,357.10 1379.98,357.91 1383.88,358.91C1387.78,359.92 1391.62,361.12 1395.36,362.53C1399.10,363.93 1402.73,365.52 1406.27,367.30C1409.80,369.08 1413.24,371.03 1416.58,373.14C1419.92,375.25 1423.17,377.51 1426.34,379.91C1429.50,382.31 1432.57,384.85 1435.57,387.50C1438.56,390.15 1441.48,392.91 1444.32,395.76C1447.16,398.61 1449.92,401.56 1452.62,404.58C1455.32,407.59 1457.95,410.68 1460.52,413.82C1463.09,416.95 1465.60,420.14 1468.05,423.36C1470.50,426.57 1472.90,429.81 1475.25,433.06C1477.60,436.32 1479.91,439.58 1482.18,442.86C1484.44,446.13 1486.68,449.42 1488.89,452.71C1491.10,456.00 1493.28,459.30 1495.45,462.60C1497.63,465.90 1499.79,469.20 1501.95,472.50C1504.11,475.80 1506.26,479.10 1508.43,482.39C1510.60,485.68 1512.77,488.97 1514.97,492.25C1517.17,495.52 1519.39,498.79 1521.64,502.04C1523.89,505.29 1526.18,508.53 1528.51,511.76C1530.83,514.98 1533.21,518.18 1535.63,521.37C1538.06,524.55 1540.54,527.71 1543.09,530.85C1545.64,533.98 1548.25,537.10 1550.96,540.11C1553.67,543.12 1556.48,546.01 1559.42,548.69C1562.35,551.38 1565.43,553.85 1568.66,556.01C1571.90,558.18 1575.30,560.04 1578.90,561.49C1582.50,562.94 1586.30,563.99 1590.34,564.53C1594.37,565.07 1598.64,565.11 1603.17,564.55" fill="none" stroke="#A797CB" stroke-width="8.6" stroke-linecap="round"/>
<polyline points="975.7,168.4 1100.7,43.4 1291.8,43.4" fill="none" stroke="#424242" stroke-width="3.6"/><circle cx="975.7" cy="168.4" r="7.6" fill="#424242"/>
<polyline points="858.9,587.8 1222.4,223.6 1413.6,223.6" fill="none" stroke="#424242" stroke-width="3.6"/><circle cx="858.9" cy="587.8" r="7.6" fill="#424242"/>
<polyline points="1463.4,519.8 1588.6,394.6 1779.4,394.6" fill="none" stroke="#424242" stroke-width="3.6"/><circle cx="1463.4" cy="519.8" r="7.6" fill="#424242"/>
<g font-family="'Liberation Sans', 'DejaVu Sans', sans-serif" fill="#3D3D3D" stroke="#fff" stroke-width="0.8" opacity="0.999">
<text x="1307.5" y="44.0" font-size="39.5" textLength="302.5" lengthAdjust="spacingAndGlyphs">Énergie revendue</text>
<text x="1431.2" y="224.3" font-size="39.5" textLength="340.2" lengthAdjust="spacingAndGlyphs">Autoconsommation</text>
<text x="1795.4" y="395.3" font-size="39.5" textLength="271.0" lengthAdjust="spacingAndGlyphs">Consommation</text>
<text x="1796.4" y="442.3" font-size="39.5" textLength="307.20000000000005" lengthAdjust="spacingAndGlyphs">venant du réseau</text>
<text x="1795.4" y="489.4" font-size="39.5" textLength="253.6" lengthAdjust="spacingAndGlyphs">de distribution</text>
<text x="145.0" y="1016.8" font-size="40" textLength="84.1" lengthAdjust="spacingAndGlyphs" stroke-width="1.1">0:00</text>
<text x="475.2" y="1016.8" font-size="40" textLength="107.5" lengthAdjust="spacingAndGlyphs" stroke-width="1.1">06:00</text>
<text x="820.4" y="1016.8" font-size="40" textLength="99.0" lengthAdjust="spacingAndGlyphs" stroke-width="1.1">12:00</text>
<text x="1162.0" y="1016.8" font-size="40" textLength="99.3" lengthAdjust="spacingAndGlyphs" stroke-width="1.1">18:00</text>
<text x="1501.8" y="1016.8" font-size="40" textLength="105.9" lengthAdjust="spacingAndGlyphs" stroke-width="1.1">24:00</text>
<text x="613.5" y="1177.5" font-size="41" textLength="271.5" lengthAdjust="spacingAndGlyphs" stroke-width="0.0">Consommation</text>
<text x="1026.2" y="1177.5" font-size="41" textLength="193.2" lengthAdjust="spacingAndGlyphs" stroke-width="0.0">Production</text>
<text transform="translate(94.6,591.3) rotate(-90)" x="0" y="0" font-size="39.5" textLength="132.2" lengthAdjust="spacingAndGlyphs">Énergie</text>
</g>
<line x1="520.1" y1="1165.5" x2="600.5" y2="1165.5" stroke="#A797CB" stroke-width="9" stroke-linecap="round"/>
<line x1="930.4" y1="1165.6" x2="1010.1" y2="1165.6" stroke="#E39C77" stroke-width="9" stroke-linecap="round"/>
</svg>
</body></html>
